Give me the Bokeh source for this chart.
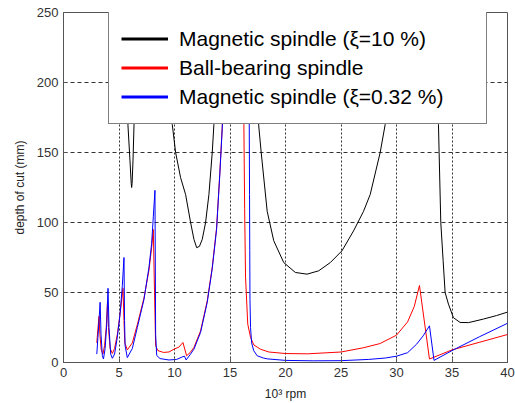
from bokeh.plotting import figure
from bokeh.models import ColumnDataSource, Legend, LegendItem, FixedTicker, Range1d
from bokeh.embed import file_html
from bokeh.resources import INLINE

# ---- data (x in 10^3 rpm, y = depth of cut in mm) ----
# values above 250 lie outside the visible range (curve leaves the top of the plot)
black_x = [3.0, 5.65, 5.75, 5.81, 5.99, 6.10, 6.14, 6.18, 6.26, 6.35, 6.42, 6.55,
           9.5, 9.7, 9.8, 10.1, 10.55, 11.0, 11.45, 11.75, 12.0, 12.25, 12.5, 12.8, 13.1, 13.4, 13.55, 13.7, 13.9,
           17.0, 17.4, 17.59, 17.81, 18.35, 18.94, 19.84, 20.89, 21.94, 22.99, 24.04, 25.09, 26.13, 27.03, 27.63,
           28.53, 28.98, 29.3, 29.8,
           33.5, 33.78, 33.84, 33.99, 34.2, 34.38, 34.68, 35.13, 35.73, 36.5, 37.82, 39.0, 40.0]
black_y = [400, 400, 220, 169, 144, 128, 125, 128, 144, 169, 220, 400,
           400, 200, 170, 150, 132, 120, 100, 88, 82, 83, 88, 100, 120, 150, 170, 210, 400,
           400, 220, 169, 150, 108, 87, 71.4, 64.3, 63.1, 65.5, 71.4, 79.8, 94, 108, 120,
           150, 170, 200, 400,
           400, 170, 150, 100, 73, 50, 41.7, 32, 28.6, 28.5, 31, 33.5, 36]

red_x = [3.0, 3.1, 3.2, 3.28, 3.4, 3.55, 3.7, 3.85, 3.96, 4.05, 4.2, 4.4, 4.6, 4.85, 5.1, 5.36, 5.45, 5.52,
         5.75, 6.2, 6.65, 7.25, 7.7, 7.94, 8.09, 8.2, 8.3, 8.5, 9.0, 9.5, 9.95, 10.4, 10.76, 11.09, 11.4,
         11.75, 12.35, 12.95, 13.4, 13.79, 14.08, 14.3, 14.5, 14.7, 15.5, 16.15, 16.25, 16.32, 16.4, 16.6,
         16.85, 17.15, 17.45, 17.74, 18.5, 20.0, 22.0, 25.0, 27.0, 28.5, 30.0, 31.0, 31.6, 32.07, 32.97,
         35.0, 37.5, 40.0]
red_y = [14, 24, 33, 20, 9, 6, 12, 25, 43, 25, 10, 6.5, 10, 20, 35, 53, 30, 14,
         9, 14, 27, 46, 66, 82, 95, 50, 12, 8.5, 7.2, 7.5, 9.5, 11, 14.3, 4.8, 7,
         10.7, 22.6, 44, 68, 96, 135, 168, 215, 300, 400, 400, 170, 110, 61, 27.4,
         17.9, 12.5, 11, 9.5, 7.5, 6.4, 6.2, 7.5, 10.5, 13.5, 19.5, 29, 40, 55, 2.5,
         9, 14.5, 20]

blue_x = [3.0, 3.1, 3.2, 3.3, 3.38, 3.5, 3.6, 3.75, 3.9, 4.01, 4.1, 4.25, 4.4, 4.6, 4.85, 5.1, 5.3, 5.45,
          5.5, 5.55, 5.75, 6.2, 6.65, 7.25, 7.7, 7.94, 8.09, 8.24, 8.3, 8.4, 8.7, 9.5, 10.2, 10.7, 10.9,
          11.05, 11.4, 11.75, 12.35, 12.95, 13.4, 13.79, 14.08, 14.3, 14.5, 14.7, 15.5, 16.6, 16.72, 16.76,
          16.78, 16.8, 16.85, 16.95, 17.14, 17.45, 18.0, 18.35, 20.0, 22.5, 25.0, 27.5, 29.0, 30.0, 31.0,
          31.8, 32.4, 32.97, 33.38, 35.0, 37.5, 40.0]
blue_y = [6, 18, 30, 43, 20, 5, 2.5, 10, 28, 53, 25, 6, 3, 6, 18, 35, 55, 75,
          30, 12, 3.5, 10, 25, 45, 68, 85, 104, 123, 20, 5, 2.8, 1.8, 2.2, 4, 4.5,
          1.8, 5.5, 9.5, 21.5, 43, 67, 95, 134, 167, 215, 300, 400, 400, 200, 120,
          80, 45, 25, 14, 8.4, 4.8, 3.2, 2.6, 1.5, 1.2, 1.3, 2.2, 3.2, 4.5, 7,
          13, 19, 26.2, 1.5, 8.5, 18.5, 28]

x_ticks = [0, 5, 10, 15, 20, 25, 30, 35, 40]
y_ticks = [0, 50, 100, 150, 200, 250]

labels = ["Magnetic spindle (\u03be=10 %)", "Ball-bearing spindle", "Magnetic spindle (\u03be=0.32 %)"]
colors = ["#000000", "#ff0000", "#0000ff"]

FONT = "Liberation Sans"

p = figure(width=515, height=403, x_range=Range1d(0, 40), y_range=Range1d(0, 250),
           output_backend="svg", toolbar_location=None,
           min_border_left=63, min_border_right=8, min_border_top=12, min_border_bottom=41)
p.background_fill_color = "white"
p.border_fill_color = "white"
p.outline_line_color = "#555555"
p.outline_line_width = 1

src_black = ColumnDataSource(dict(x=black_x, y=black_y))
src_red = ColumnDataSource(dict(x=red_x, y=red_y))
src_blue = ColumnDataSource(dict(x=blue_x, y=blue_y))
sources = [src_black, src_red, src_blue]

for src, c in zip(sources, colors):
    p.line("x", "y", source=src, line_color=c, line_width=1)

# thicker swatches for the legend (same data, not drawn in the plot)
leg_renderers = []
for src, c in zip(sources, colors):
    r = p.line("x", "y", source=src, line_color=c, line_width=3)
    r.visible = False
    leg_renderers.append(r)

legend = Legend(items=[LegendItem(label=l, renderers=[r]) for l, r in zip(labels, leg_renderers)],
                location=(45, 238))
legend.border_line_color = "black"
legend.border_line_width = 1.5
legend.background_fill_color = "white"
legend.background_fill_alpha = 1
legend.padding = 12
legend.spacing = 0
legend.margin = 0
legend.glyph_width = 47
legend.glyph_height = 29
legend.label_height = 29
legend.label_width = 295
legend.label_standoff = 11
legend.label_text_font = FONT
legend.label_text_font_size = "21px"
legend.label_text_color = "black"
legend.click_policy = "none"
p.add_layout(legend)

for ax in (p.xaxis, p.yaxis):
    ax.axis_line_color = "#555555"
    ax.axis_line_width = 1
    ax.major_tick_in = 4
    ax.major_tick_out = 0
    ax.minor_tick_in = 0
    ax.minor_tick_out = 0
    ax.major_tick_line_color = "#555555"
    ax.major_label_text_font = FONT
    ax.major_label_text_font_size = "13px"
    ax.major_label_text_color = "#333333"
    ax.axis_label_text_font = FONT
    ax.axis_label_text_font_style = "normal"
    ax.axis_label_text_color = "#222222"

p.xaxis.ticker = FixedTicker(ticks=x_ticks)
p.yaxis.ticker = FixedTicker(ticks=y_ticks)
p.xaxis.axis_label = "10\u00b3 rpm"
p.yaxis.axis_label = "depth of cut (mm)"
p.xaxis.axis_label_text_font_size = "12px"
p.yaxis.axis_label_text_font_size = "12px"
p.xaxis.major_label_standoff = 5
p.xaxis.axis_label_standoff = 7
p.yaxis.major_label_standoff = 5
p.yaxis.axis_label_standoff = 7

p.xgrid.grid_line_color = "#333333"
p.xgrid.grid_line_dash = "2 2"
p.xgrid.grid_line_width = 1
p.ygrid.grid_line_color = "#333333"
p.ygrid.grid_line_dash = "4 3"
p.ygrid.grid_line_width = 1

open("out.html", "w").write(file_html(p, INLINE))
